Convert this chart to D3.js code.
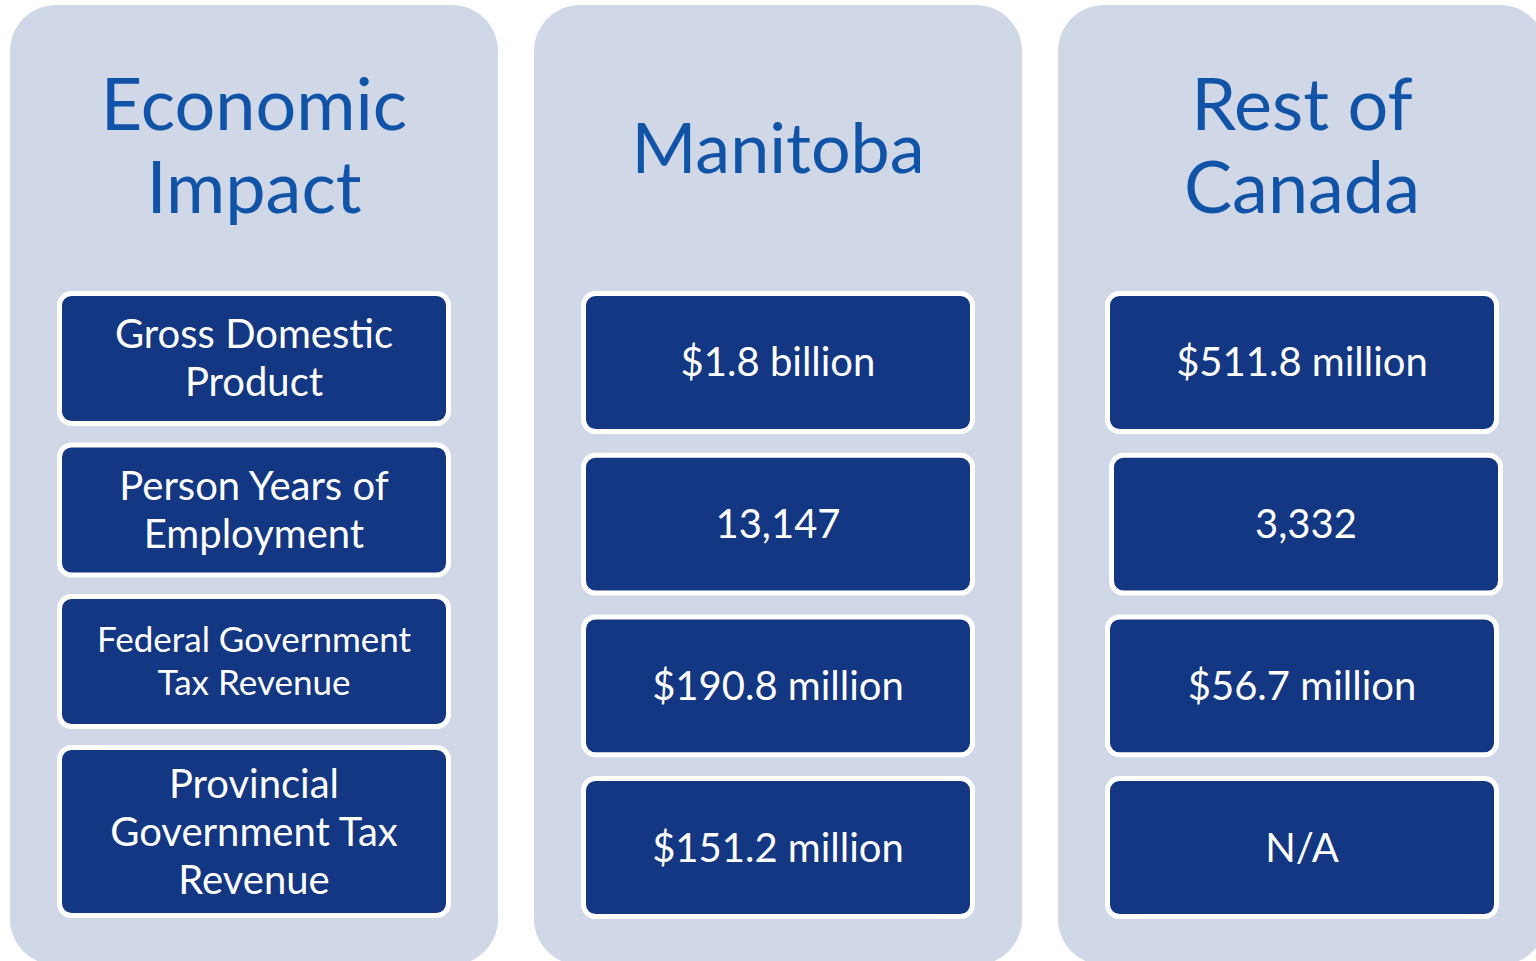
<!DOCTYPE html>
<html>
<head>
	<meta charset="utf-8">
	<title>Economic Impact</title>
	<script src="https://cdn.jsdelivr.net/npm/d3@7/dist/d3.min.js"></script>
	<style>
		body { margin: 0; background: #fff; }
		text { font-family: Lato, "Noto Sans", sans-serif; }
	</style>
</head>
<body>
	<script>
		// data
		var headers = [["Economic", "Impact"], ["Manitoba"], ["Rest of", "Canada"]];
		var metrics = [["Gross Domestic", "Product"], ["Person Years of", "Employment"],
			["Federal Government", "Tax Revenue"], ["Provincial", "Government Tax", "Revenue"]];
		var manitoba = ["$1.8 billion", "13,147", "$190.8 million", "$151.2 million"];
		var restOfCanada = ["$511.8 million", "3,332", "$56.7 million", "N/A"];

		var W = 1536, H = 961;
		var svg = d3.select("body").append("svg")
			.attr("width", W).attr("height", H);

		// columns
		var x = d3.scaleBand().domain([0, 1, 2]).range([10, 1546]).paddingInner(0.0687).paddingOuter(0);
		var colW = x.bandwidth();

		svg.selectAll("rect.col").data([0, 1, 2]).enter().append("rect")
			.attr("class", "col")
			.attr("x", function(d){ return x(d); })
			.attr("y", 5)
			.attr("width", colW)
			.attr("height", 960)
			.attr("rx", 46)
			.attr("fill", "#d0d8e7");

		// headers
		var hdr = svg.selectAll("text.hdr").data(headers).enter().append("text")
			.attr("class", "hdr")
			.attr("text-anchor", "middle")
			.attr("fill", "#1153a6")
			.attr("font-size", function(d){ return d.length === 1 ? 70 : 72; });
		hdr.selectAll("tspan").data(function(d){ return d; }).enter().append("tspan")
			.attr("x", function(d, i, n){ return x(headers.indexOf(d3.select(n[i].parentNode).datum())) + colW / 2; })
			.attr("y", function(d, i, n){
				return (n.length === 1 ? 173 : 130) + i * 83;
			})
			.text(function(d){ return d; });

		// rows: first column and value columns use slightly different boxes
		var yLabel = d3.scaleBand().domain([0, 1, 2]).range([291, 729]).paddingInner(0.109);
		function labelBox(i) {
			if (i < 3) return { y: yLabel(i), h: yLabel.bandwidth() };
			return { y: 745, h: 173 };
		}
		var yVal = d3.scaleBand().domain([0, 1, 2, 3]).range([291, 919]).paddingInner(0.116);

		var boxW = 394;
		var cells = [];
		metrics.forEach(function(m, i){
			var b = labelBox(i);
			cells.push({ col: 0, row: i, lines: m, y: b.y, h: b.h, dx: 0 });
		});
		manitoba.forEach(function(v, i){
			cells.push({ col: 1, row: i, lines: [v], y: yVal(i), h: yVal.bandwidth(), dx: 0 });
		});
		restOfCanada.forEach(function(v, i){
			cells.push({ col: 2, row: i, lines: [v], y: yVal(i), h: yVal.bandwidth(), dx: i === 1 ? 4 : 0 });
		});

		var g = svg.selectAll("g.cell").data(cells).enter().append("g")
			.attr("class", "cell")
			.attr("transform", function(d){
				return "translate(" + (x(d.col) + (colW - boxW) / 2 + d.dx) + "," + d.y + ")";
			});

		g.append("rect")
			.attr("x", 2.5).attr("y", 2.5)
			.attr("width", boxW - 5)
			.attr("height", function(d){ return d.h - 5; })
			.attr("rx", 12)
			.attr("fill", "#133782")
			.attr("stroke", "#ffffff")
			.attr("stroke-width", 5);

		g.append("text")
			.attr("text-anchor", "middle")
			.attr("fill", "#ffffff")
			.each(function(d){
				var small = d.col === 0 && d.row === 2;
				var fs = small ? 35 : 40;
				var lh = small ? 43 : 48;
				var n = d.lines.length;
				var first = d.h / 2 - (n - 1) * lh / 2 + fs * 0.35;
				d3.select(this).attr("font-size", fs)
					.selectAll("tspan").data(d.lines).enter().append("tspan")
					.attr("x", boxW / 2)
					.attr("y", function(t, i){ return first + i * lh; })
					.text(function(t){ return t; });
			});
	</script>
</body>
</html>
